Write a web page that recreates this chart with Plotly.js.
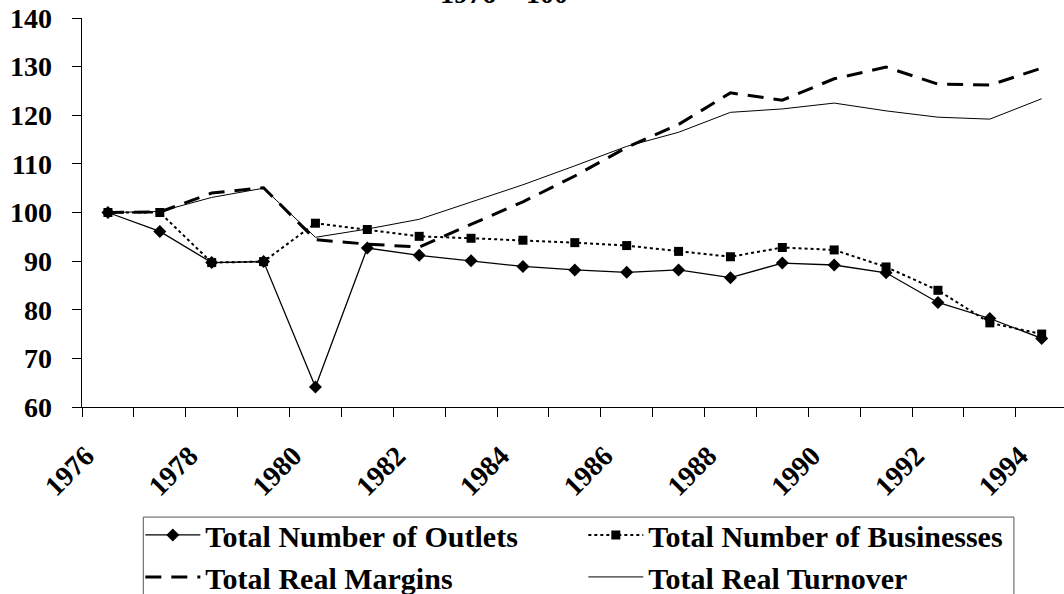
<!DOCTYPE html>
<html>
<head>
<meta charset="utf-8">
<script src="https://cdn.plot.ly/plotly-3.0.1.min.js"></script>
<style>html,body{margin:0;padding:0;background:#fff;overflow:hidden}#chart{width:1064px;height:594px}</style>
</head>
<body>
<div id="chart"></div>
<script>
// Categories: one observation per year (plotted mid-interval on the year axis)
const years = [1976,1977,1978,1979,1980,1981,1982,1983,1984,1985,1986,1987,1988,1989,1990,1991,1992,1993,1994];
const tickYears = [1976,1978,1980,1982,1984,1986,1988,1990,1992,1994];
const tickLabels = ['1976','1978','1980','1982','1984','1986','1988','1990','1992','1994'];
const seriesNames = ['Total Number of Outlets','Total Number of Businesses','Total Real Margins','Total Real Turnover'];
const outlets    = [100, 96.1, 89.7, 89.9, 64.1, 92.7, 91.2, 90.1, 88.9, 88.2, 87.7, 88.2, 86.6, 89.6, 89.2, 87.6, 81.5, 78.2, 74.1];
const businesses = [100, 100, 89.7, 89.9, 97.8, 96.5, 95.1, 94.7, 94.3, 93.8, 93.2, 92.0, 90.9, 92.8, 92.3, 88.8, 84.0, 77.3, 75.0];
const margins    = [100, 100.1, 104.0, 105.1, 94.4, 93.5, 92.9, 97.5, 102.2, 107.5, 113.4, 118.1, 124.6, 123.1, 127.5, 129.9, 126.4, 126.2, 129.7];
const turnover   = [100, 100.2, 103.1, 105.0, 94.9, 96.6, 98.6, 102.1, 105.7, 109.6, 113.6, 116.5, 120.6, 121.3, 122.5, 120.9, 119.6, 119.2, 123.4];
const titleText = '1976 = 100';

const FONT = 'Liberation Serif, "Times New Roman", Times, serif';
const xs = years.map(y => y + 0.5);

const traces = [
  {x: xs, y: outlets, name: seriesNames[0], type: 'scatter', mode: 'lines+markers',
   line: {color: '#000', width: 1.3}, marker: {symbol: 'diamond', size: 10, color: '#000'}},
  {x: xs, y: businesses, name: seriesNames[1], type: 'scatter', mode: 'lines+markers',
   line: {color: '#000', width: 2, dash: 'dot'}, marker: {symbol: 'square', size: 9, color: '#000'}},
  {x: xs, y: margins, name: seriesNames[2], type: 'scatter', mode: 'lines',
   line: {color: '#000', width: 3, dash: '16px,10px'}},
  {x: xs, y: turnover, name: seriesNames[3], type: 'scatter', mode: 'lines',
   line: {color: '#000', width: 1}}
];

// every year gets a tick; only even years carry a label
const tickText = years.map(y => { const i = tickYears.indexOf(y); return i >= 0 ? tickLabels[i] : ''; });

const layout = {
  width: 1064, height: 594,
  margin: {l: 82, r: 0, t: 18, b: 186.5, pad: 0, autoexpand: false},
  paper_bgcolor: '#fff', plot_bgcolor: '#fff',
  font: {family: FONT, color: '#000', size: 28},
  showlegend: true,
  xaxis: {
    range: [1976, 1994.93], tickmode: 'array', tickvals: years, ticktext: tickText,
    tickangle: -45, ticks: 'outside', ticklen: 9, tickwidth: 1, tickcolor: '#000',
    showline: true, linecolor: '#000', linewidth: 1.3, showgrid: false, zeroline: false, automargin: false,
    tickfont: {family: FONT, size: 28, weight: 'bold', color: '#000'}, ticklabelstandoff: 11, ticklabelshift: 4
  },
  yaxis: {
    range: [60, 140], dtick: 10, tick0: 60, ticks: 'outside', ticklen: 9, tickwidth: 1, tickcolor: '#000',
    showline: true, linecolor: '#000', linewidth: 1.3, showgrid: false, zeroline: false, automargin: false,
    tickfont: {family: FONT, size: 28, weight: 'bold', color: '#000'}, ticklabelstandoff: 14
  },
  legend: {
    orientation: 'h', x: 0.0594, xanchor: 'left', y: -0.262, yanchor: 'top',
    borderwidth: 0, bgcolor: 'rgba(0,0,0,0)',
    entrywidth: 373, entrywidthmode: 'pixels', itemwidth: 55,
    font: {family: FONT, size: 30, weight: 'bold', color: '#000'}, tracegroupgap: 0
  },
  shapes: [{
    type: 'rect', xref: 'paper', yref: 'paper', x0: 0.0624, x1: 0.949, y0: -0.283, y1: -0.62,
    line: {color: '#555', width: 1}, fillcolor: 'rgba(0,0,0,0)', layer: 'below'
  }],
  annotations: [{
    text: titleText, xref: 'paper', yref: 'paper', x: 0.43, y: 1.017, xanchor: 'center', yanchor: 'bottom',
    showarrow: false, font: {family: FONT, size: 28, weight: 'bold', color: '#000'}
  }]
};

Plotly.newPlot('chart', traces, layout, {displayModeBar: false, staticPlot: true});
</script>
</body>
</html>
